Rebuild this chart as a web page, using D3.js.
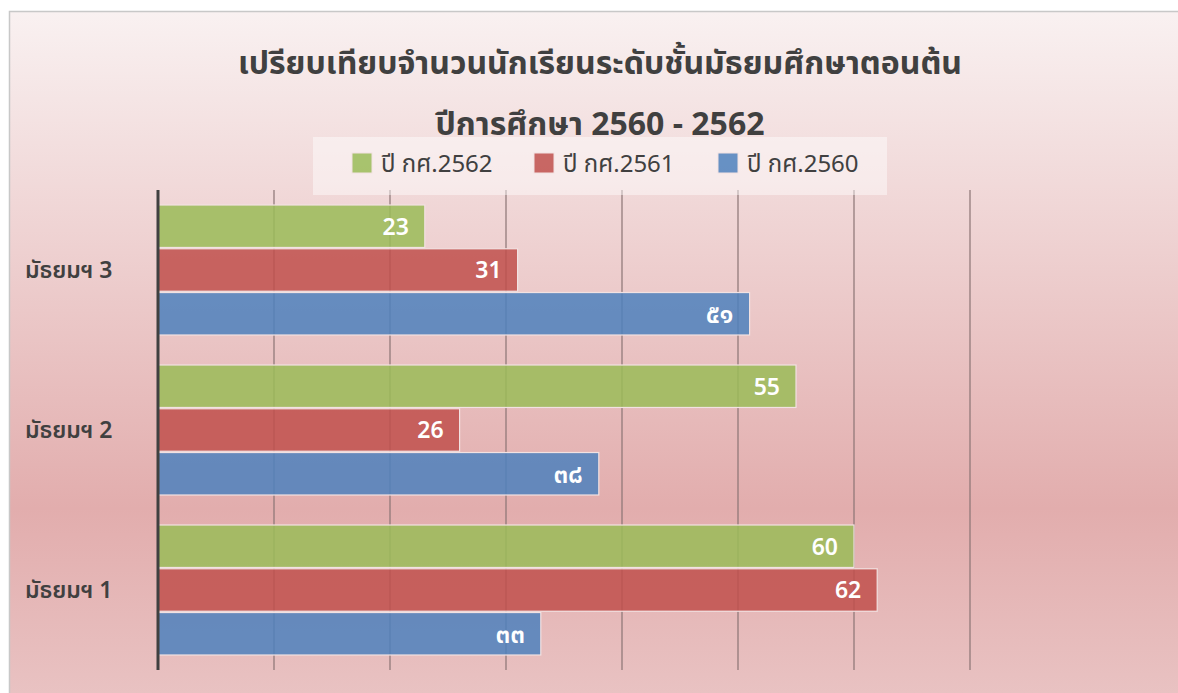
<!DOCTYPE html>
<html><head><meta charset="utf-8">
<script src="https://cdn.jsdelivr.net/npm/d3@7"></script>
<style>body{margin:0;background:#fff}svg{display:block}</style>
</head><body>
<svg id="c" width="1178" height="693"></svg>
<script>
const categories = ["มัธยมฯ 3", "มัธยมฯ 2", "มัธยมฯ 1"];
const seriesNames = ["ปี กศ.2562", "ปี กศ.2561", "ปี กศ.2560"];
const values2562 = [23, 55, 60];
const values2561 = [31, 26, 62];
const values2560 = [51, 38, 33];
const labels2560 = ["๕๑", "๓๘", "๓๓"];
const xTicks = [0, 10, 20, 30, 40, 50, 60, 70];
const titleLines = ["เปรียบเทียบจำนวนนักเรียนระดับชั้นมัธยมศึกษาตอนต้น", "ปีการศึกษา 2560 - 2562"];

const colors = ["#9bbb59", "#c0504d", "#4f81bd"];
const seriesVals = [values2562, values2561, values2560];
const seriesLabels = [values2562.map(String), values2561.map(String), labels2560];
const FONT = "'Noto Sans Thai','Noto Sans','Tahoma','DejaVu Sans',sans-serif";

const svg = d3.select("#c");
const defs = svg.append("defs");
const g = defs.append("linearGradient").attr("id","bg").attr("x1",0).attr("y1",0).attr("x2",0).attr("y2",1);
g.append("stop").attr("offset","0%").attr("stop-color","#f9f1f1");
g.append("stop").attr("offset","72%").attr("stop-color","#e2adad");
g.append("stop").attr("offset","100%").attr("stop-color","#e9c3c3");

svg.append("rect").attr("x",9.5).attr("y",11.5).attr("width",1175).attr("height",690)
  .attr("fill","url(#bg)").attr("stroke","#c8c8c8").attr("stroke-width",1.5);

const L = 158, R = 970, T = 190, B = 670;
const x = d3.scaleLinear().domain([0,70]).range([L,R]);
const y = d3.scaleBand().domain(categories).range([T,B]).paddingInner(30/160).paddingOuter(15/160);
const ys = d3.scaleBand().domain(d3.range(3)).range([0,y.bandwidth()]).paddingInner(0.03);

// gridlines
svg.append("g").selectAll("line").data(xTicks.slice(1)).join("line")
  .attr("x1",d=>x(d)).attr("x2",d=>x(d)).attr("y1",T).attr("y2",B)
  .attr("stroke","#8a7474").attr("stroke-width",1.2);

// bars
const groups = svg.append("g").selectAll("g").data(categories).join("g")
  .attr("transform",d=>`translate(0,${y(d)})`);
groups.each(function(cat, ci){
  const gg = d3.select(this);
  for (let s=0;s<3;s++){
    const v = seriesVals[s][ci];
    gg.append("rect").attr("x",x(0)).attr("y",ys(s))
      .attr("width",x(v)-x(0)).attr("height",ys.bandwidth())
      .attr("fill",colors[s]).attr("fill-opacity",0.86)
      .attr("stroke","#f2e2e2").attr("stroke-width",1.2);
    gg.append("text").attr("x",x(v)-16).attr("y",ys(s)+ys.bandwidth()/2)
      .attr("dy","0.36em").attr("text-anchor","end")
      .attr("font-family",FONT).attr("font-size",s===2?26:23).attr("font-weight",600)
      .attr("fill","#ffffff").text(seriesLabels[s][ci]);
  }
});

// axis line
svg.append("line").attr("x1",L).attr("x2",L).attr("y1",T).attr("y2",B)
  .attr("stroke","#404040").attr("stroke-width",3);

// category labels
svg.append("g").selectAll("text").data(categories).join("text")
  .attr("x",25).attr("y",d=>y(d)+y.bandwidth()/2).attr("dy","0.35em")
  .attr("font-family",FONT).attr("font-size",23).attr("font-weight",600)
  .attr("fill","#404040").text(d=>d);

// title
svg.append("g").selectAll("text").data(titleLines).join("text")
  .attr("x",600).attr("y",(d,i)=>74+i*61).attr("text-anchor","middle")
  .attr("font-family",FONT).attr("font-size",32).attr("font-weight","bold")
  .attr("fill","#404040").text(d=>d);

// legend
svg.append("rect").attr("x",313).attr("y",137).attr("width",574).attr("height",58)
  .attr("fill","#ffffff").attr("fill-opacity",0.45);
const legX = [352, 534, 718];
const leg = svg.append("g").selectAll("g").data(seriesNames).join("g")
  .attr("transform",(d,i)=>`translate(${legX[i]},153)`);
leg.append("rect").attr("width",20).attr("height",20)
  .attr("fill",(d,i)=>colors[i]).attr("fill-opacity",0.86).attr("stroke","#f2e2e2");
leg.append("text").attr("x",29).attr("y",10).attr("dy","0.36em")
  .attr("font-family",FONT).attr("font-size",24).attr("fill","#404040").text(d=>d);
</script>
</body></html>
